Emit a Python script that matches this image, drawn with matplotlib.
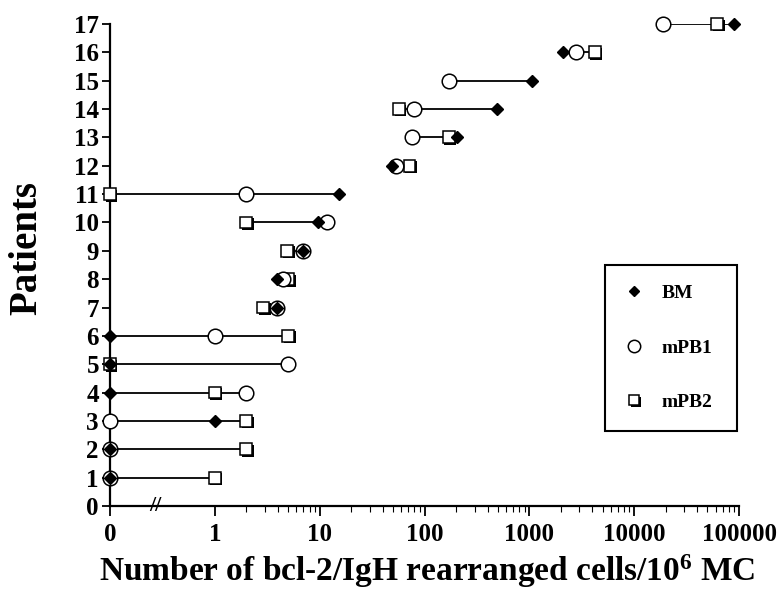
import numpy as np
import matplotlib
matplotlib.use('Agg')
import matplotlib.pyplot as plt
import matplotlib.patheffects as pe

plt.rcParams['font.family'] = ['Liberation Serif', 'DejaVu Serif']
plt.rcParams['font.weight'] = 'bold'
plt.rcParams['mathtext.default'] = 'regular'

# Data; 0 means "none detected" and sits at the "0" tick
patients = np.arange(1, 18)
bm = [0, 0, 1, 0, 0, 0, 3.9, 3.9, 6.9, 9.7, 15.3, 49, 205, 490, 1050, 2100, 90000]
mpb1 = [0, 0, 0, 2, 5, 1, 3.9, 4.5, 6.9, 11.7, 2, 53, 76, 80, 170, 2800, 19000]
mpb2 = [1, 2, 2, 1, 0, 5, 2.9, 5, 4.9, 2, 0, 72, 170, 57, np.nan, 4200, 62000]

x_ticks = [0.1, 1, 10, 100, 1000, 10000, 100000]
x_labels = ['0', '1', '10', '100', '1000', '10000', '100000']
zero_pos = 0.1  # where the value 0 is drawn on the log axis


def to_axis(vals):
    v = np.array(vals, dtype=float)
    return np.where(v == 0, zero_pos, v)


bm_x = to_axis(bm)
p1_x = to_axis(mpb1)
p2_x = to_axis(mpb2)

fig = plt.figure(figsize=(7.79, 5.92), dpi=100)
ax = fig.add_axes([0.1412, 0.1453, 0.8075, 0.8142])

# range line for each patient
all_x = np.vstack([bm_x, p1_x, p2_x])
lo = np.nanmin(all_x, axis=0)
hi = np.nanmax(all_x, axis=0)
ax.hlines(patients, lo, hi, color='black', lw=1.3, zorder=1)

shadow = [pe.SimplePatchShadow(offset=(1.1, -1.1), shadow_rgbFace='black', alpha=1.0), pe.Normal()]
ax.plot(p2_x, patients, 's', ms=8.5, mfc='white', mec='black', mew=1.1,
        path_effects=shadow, label='mPB2', zorder=3, clip_on=False)
ax.plot(p1_x, patients, 'o', ms=10.5, mfc='white', mec='black', mew=1.1,
        label='mPB1', zorder=4, clip_on=False)
ax.plot(bm_x, patients, 'D', ms=6.2, mfc='black', mec='black',
        label='BM', zorder=5, clip_on=False)

ax.set_xscale('log')
ax.set_xlim(0.1, 100000)
ax.set_ylim(0, 17)
ax.set_xticks(x_ticks)
ax.set_xticklabels(x_labels)
minor = [m * 10 ** k for k in range(0, 5) for m in range(2, 10)]
ax.set_xticks(minor, minor=True)
ax.set_xticklabels([], minor=True)
ax.set_yticks(np.arange(0, 18))

ax.spines['top'].set_visible(False)
ax.spines['right'].set_visible(False)
ax.spines['left'].set_linewidth(1.6)
ax.spines['bottom'].set_linewidth(1.6)
ax.tick_params(axis='y', which='major', direction='out', length=6, width=1.3,
               labelsize=18, pad=2)
ax.tick_params(axis='x', which='major', direction='out', length=7, width=1.3,
               labelsize=18, pad=5)
ax.tick_params(axis='x', which='minor', direction='out', length=4, width=0.8)

# axis break mark between 0 and 1
ax.text(0.27, 0, '//', transform=ax.get_xaxis_transform(), ha='center', va='center',
        fontsize=16, fontweight='bold', clip_on=False)

ax.set_ylabel('Patients', fontsize=28, fontweight='bold')
ax.yaxis.set_label_coords(-0.103, 0.535)
ax.set_xlabel('Number of bcl-2/IgH rearranged cells/10$^6$ MC', fontsize=24,
              fontweight='bold')
ax.xaxis.set_label_coords(0.505, -0.097)

h, l = ax.get_legend_handles_labels()
leg = ax.legend(h[::-1], l[::-1], loc='upper left',
                bbox_to_anchor=(0.7766, 0.2770, 0.1694, 0.2754),
                bbox_transform=fig.transFigure, mode='expand',
                prop={'size': 14, 'weight': 'bold'}, frameon=True, fancybox=False,
                edgecolor='black', framealpha=1, labelspacing=1.9, borderpad=1.0,
                handlelength=1.0, handletextpad=0.9, markerscale=0.85, borderaxespad=0)
leg.get_frame().set_linewidth(1.5)

plt.savefig('out.png', dpi=100)
